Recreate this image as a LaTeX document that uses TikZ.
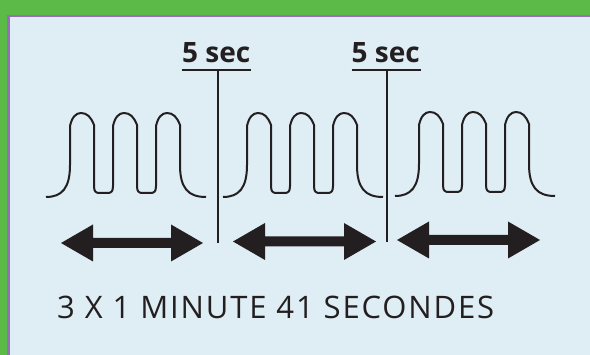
\documentclass[tikz,border=0pt]{standalone}
\usepackage{fontspec}
\setmainfont{Open Sans}
\definecolor{frameGreen}{RGB}{92,186,72}
\definecolor{framePurple}{RGB}{150,110,190}
\definecolor{panelBlue}{RGB}{223,237,245}
\definecolor{ink}{RGB}{35,31,32}
\newcommand\wavegroup[3]{%
  \begin{scope}[shift={(#1,#2)}]
  \draw[wave] (0,197) .. controls (16,197) and (24,188) .. (24,165)
   -- (24,126) .. controls (26,117) and (30,113) .. (35,113) .. controls (41,113) and (45,117) .. (48,125)
   -- (48,186) .. controls (48,192) and (50,193) .. (54,193) -- (61,193) .. controls (65,193) and (67,192) .. (67,186)
   -- (67,126) .. controls (69,117) and (73,113) .. (78,113) .. controls (84,113) and (88,117) .. (91,125)
   -- (91,186) .. controls (91,192) and (93,193) .. (97,193) -- (104,193) .. controls (108,193) and (110,192) .. (110,186)
   -- (110,126) .. controls (112,117) and (116,113) .. (121,113) .. controls (127,113) and (131,117) .. (134,125)
   -- (134,165) .. controls (134,188) and (142,197) .. (160,197);
  \coordinate (#3) at (0,197);
  \end{scope}}
\newcommand\fatarrow[3]{%
  \fill[ink] (#1,#3) -- ($(#1,#3)+(32,-18.5)$) -- ($(#1,#3)+(32,-5)$) -- ($(#2,#3)+(-32,-5)$)
   -- ($(#2,#3)+(-32,-18.5)$) -- (#2,#3) -- ($(#2,#3)+(-32,18.5)$) -- ($(#2,#3)+(-32,5)$)
   -- ($(#1,#3)+(32,5)$) -- ($(#1,#3)+(32,18.5)$) -- cycle;}
\usetikzlibrary{calc}
\begin{document}
\begin{tikzpicture}[x=1pt,y=-1pt,
  wave/.style={draw=ink,line width=2pt,line join=round},
  sep/.style={draw=ink,line width=2pt},
  seclabel/.style={inner sep=0pt,anchor=base west,text=ink,font=\bfseries\fontsize{28}{30}\selectfont},
  caption/.style={inner sep=0pt,anchor=base west,text=ink,font=\fontsize{31}{33}\selectfont\addfontfeatures{LetterSpace=6}}]
\useasboundingbox (0,0) rectangle (590,355);
\fill[frameGreen] (0,0) rectangle (590,355);
\fill[framePurple] (7,15) rectangle (590,355);
\fill[panelBlue] (9.7,17.3) rectangle (590,355);
% labels
\node[seclabel] (s1) at (182,63) {5 sec};
\node[seclabel] (s2) at (351.5,63) {5 sec};
\coordinate (u1a) at (182,70); \coordinate (u1b) at (251,70);
\coordinate (u2a) at (351.5,70); \coordinate (u2b) at (420.5,70);
\coordinate (v1t) at (217.5,70); \coordinate (v1b) at (217.5,243);
\coordinate (v2t) at (386.5,70); \coordinate (v2b) at (386.5,242);
\draw[sep] (u1a) -- (u1b);
\draw[sep] (u2a) -- (u2b);
\draw[sep] (v1t) -- (v1b);
\draw[sep] (v2t) -- (v2b);
% waves
\wavegroup{46}{0}{w1}
\wavegroup{223}{0}{w2}
\wavegroup{395}{-1}{w3}
% arrows
\fatarrow{61}{203}{243}
\fatarrow{233}{376}{241.5}
\fatarrow{397}{540}{240}
\node[caption] (cap) at (57,318.3) {3 X 1 MINUTE 41 SECONDES};
\end{tikzpicture}
\end{document}
